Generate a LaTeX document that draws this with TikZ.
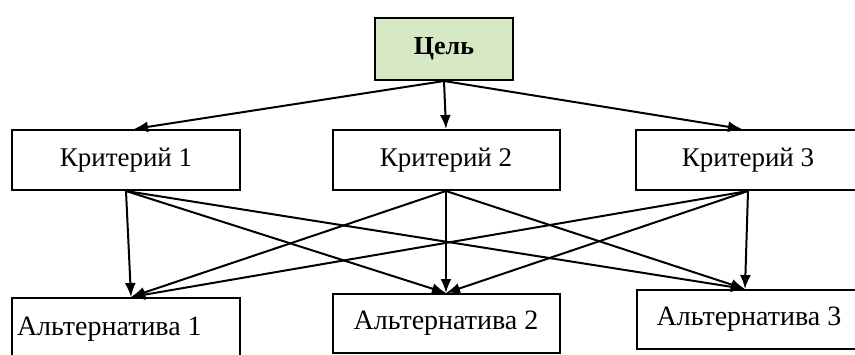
\documentclass[tikz,border=0pt]{standalone}
\usepackage{fontspec}
\setmainfont{Liberation Serif}
\usepackage{tikz}
\usetikzlibrary{calc, positioning, arrows.meta}
\definecolor{goalgreen}{RGB}{214,232,196}
\tikzset{
	box/.style={draw, line width=2pt, text centered, font=\fontsize{27}{31}\selectfont},
	link/.style={-{Latex[length=14pt, width=11pt]}, line width=2pt}
}

\begin{document}
\begin{tikzpicture}[x=1pt, y=-1pt]
	\useasboundingbox (0,0) rectangle (855,354);

		% nodes - goal %
		\node[box, fill=goalgreen, minimum width=138pt, minimum height=62pt, font=\bfseries\fontsize{26}{30}\selectfont] (goal) at (444,49) {Цель};

		% nodes - criteria %
		\node[box, minimum width=228pt, minimum height=60pt] (k1) at (126,160) {Критерий 1};
		\node[box, minimum width=227pt, minimum height=60pt] (k2) at (446,160) {Критерий 2};
		\node[box, minimum width=225pt, minimum height=60pt] (k3) at (748,160) {Критерий 3};

		% nodes - alternatives %
		\node[box, minimum width=228pt, minimum height=62pt, text width=218pt, align=flush left, inner xsep=3pt, font=\fontsize{28}{32}\selectfont] (a1) at (126,329) {Альтернатива 1};
		\node[box, minimum width=227pt, minimum height=59pt, font=\fontsize{28}{32}\selectfont] (a2) at (446,323.5) {Альтернатива 2};
		\node[box, minimum width=225pt, minimum height=59pt, font=\fontsize{28}{32}\selectfont] (a3) at (749,319.5) {Альтернатива 3};

		% edges - goal to criteria %
		\draw[link] (goal.south) -- ([xshift=8pt]k1.north);
		\draw[link] (goal.south) -- (k2.north);
		\draw[link] (goal.south) -- ([xshift=-6pt]k3.north);

		% edges - criteria to alternatives %
		\draw[link] (k1.south) -- ([xshift=5pt]a1.north);
		\draw[link] (k1.south) -- (a2.north);
		\draw[link] (k1.south) -- ([xshift=-4pt]a3.north);
		\draw[link] (k2.south) -- ([xshift=5pt]a1.north);
		\draw[link] (k2.south) -- (a2.north);
		\draw[link] (k2.south) -- ([xshift=-4pt]a3.north);
		\draw[link] (k3.south) -- ([xshift=5pt]a1.north);
		\draw[link] (k3.south) -- (a2.north);
		\draw[link] (k3.south) -- ([xshift=-4pt]a3.north);

\end{tikzpicture}
\end{document}
